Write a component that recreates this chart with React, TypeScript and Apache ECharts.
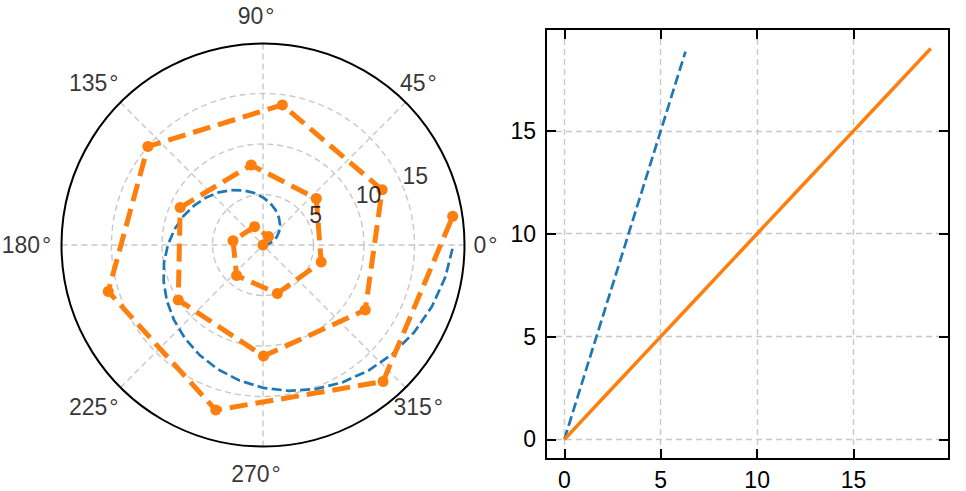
import React, { useEffect, useRef } from "react";
import * as echarts from "echarts";

// ---- data ----
// blue spiral (r = 3*theta), sampled every 10 degrees
const spiralDeg = [
  0, 10, 20, 30, 40, 50, 60, 70, 80, 90, 100, 110, 120, 130, 140, 150, 160, 170, 180,
  190, 200, 210, 220, 230, 240, 250, 260, 270, 280, 290, 300, 310, 320, 330, 340, 350, 360,
];
const spiralR = [
  0, 0.52, 1.05, 1.57, 2.09, 2.62, 3.14, 3.67, 4.19, 4.71, 5.24, 5.76, 6.28, 6.81, 7.33,
  7.85, 8.38, 8.9, 9.42, 9.95, 10.47, 11.0, 11.52, 12.04, 12.57, 13.09, 13.61, 14.14,
  14.66, 15.18, 15.71, 16.23, 16.76, 17.28, 17.8, 18.33, 18.85,
];
// orange points: theta (radians) and r
const orangeTheta = [0, 1, 2, 3, 4, 5, 6, 7, 8, 9, 10, 11, 12, 13, 14, 15, 16, 17, 18, 19];
const orangeR = [0, 1, 2, 3, 4, 5, 6, 7, 8, 9, 10, 11, 12, 13, 14, 15, 16, 17, 18, 19];
// tick labels
const angleTicks = [0, 45, 90, 135, 180, 225, 270, 315];
const radiusTicks = [5, 10, 15];

// ---- layout / style constants ----
const R_MAX = 19.95;
const AX_MIN = -0.95;
const AX_MAX = 19.95;
const ANGLE_LABEL_R = 22.72;
const RADIUS_LABEL_ANGLE = 22.5;
const FONT = "'Liberation Sans', Arial, Helvetica, sans-serif";
const FS = 23;
const BLUE = "#1f77b4";
const ORANGE = "#ff7f0e";
const GRID_C = "#c8c8c8";
const TRANSP = "rgba(0,0,0,0)";

export default function App() {
  const ref = useRef<HTMLDivElement>(null);
  useEffect(() => {
    if (!ref.current) return;
    const chart = echarts.init(ref.current, null, { renderer: "svg" });
    const gridLine = { lineStyle: { color: GRID_C, width: 1.4, type: [6, 4] } };
    const tickFmt = (v: number) => (Math.abs(v % 5) < 1e-9 ? String(v) : "");
    const cartAxis = (pos: string, labels: boolean) => ({
      type: "value",
      position: pos,
      min: AX_MIN,
      max: AX_MAX,
      axisLine: { show: true, onZero: false, lineStyle: { color: "#000", width: 2 } },
      axisTick: { show: true, inside: true, length: 10, lineStyle: { color: "#000", width: 2 } },
      axisLabel: {
        show: labels,
        color: "#000",
        fontSize: FS,
        fontFamily: FONT,
        margin: pos === "left" ? 10 : 9,
        formatter: tickFmt,
        showMinLabel: false,
        showMaxLabel: false,
      },
      splitLine: labels
        ? { show: true, showMinLine: false, showMaxLine: false, ...gridLine }
        : { show: false },
    });

    const option: any = {
      animation: false,
      textStyle: { fontFamily: FONT },
      polar: { center: [263, 245], radius: 201.5 },
      angleAxis: {
        type: "value",
        min: 0,
        max: 360,
        interval: 45,
        startAngle: 0,
        clockwise: false,
        axisLine: { show: true, lineStyle: { color: "#000", width: 2 } },
        axisTick: { show: false },
        axisLabel: { show: false },
        splitLine: { show: true, ...gridLine },
        z: 3,
      },
      radiusAxis: {
        type: "value",
        min: 0,
        max: R_MAX,
        interval: 5,
        axisLine: { show: false },
        axisTick: { show: false },
        axisLabel: { show: false },
        splitLine: {
          show: true,
          lineStyle: {
            color: [GRID_C, GRID_C, GRID_C, GRID_C, TRANSP],
            width: 1.4,
            type: [6, 4],
          },
        },
      },
      grid: { left: 546, top: 29, width: 403, height: 431 },
      xAxis: [cartAxis("bottom", true), cartAxis("top", false)],
      yAxis: [cartAxis("left", true), cartAxis("right", false)],
      series: [
        {
          type: "line",
          coordinateSystem: "polar",
          data: spiralDeg.map((d, i) => [spiralR[i], d]),
          symbol: "none",
          lineStyle: { color: BLUE, width: 2.7, type: [10, 4.3] },
          silent: true,
        },
        {
          type: "line",
          coordinateSystem: "polar",
          data: orangeTheta.map((t, i) => [orangeR[i], ((t * 180) / Math.PI) % 360]),
          symbol: "circle",
          symbolSize: 11,
          itemStyle: { color: ORANGE, borderWidth: 0 },
          lineStyle: { color: ORANGE, width: 5, type: [18, 8] },
          silent: true,
        },
        {
          type: "scatter",
          coordinateSystem: "polar",
          data: angleTicks.map((a) => ({ value: [ANGLE_LABEL_R, a], name: a + "\u200a°" })),
          symbol: "circle",
          symbolSize: 1,
          itemStyle: { color: TRANSP },
          clip: false,
          silent: true,
          label: {
            show: true,
            position: "inside",
            formatter: "{b}",
            color: "#000",
            fontSize: FS,
            fontFamily: FONT,
            align: "center",
            verticalAlign: "middle",
            offset: [-7, 0],
          },
          z: 5,
        },
        {
          type: "scatter",
          coordinateSystem: "polar",
          data: radiusTicks.map((r) => ({ value: [r, RADIUS_LABEL_ANGLE], name: String(r) })),
          symbol: "circle",
          symbolSize: 1,
          itemStyle: { color: TRANSP },
          clip: false,
          silent: true,
          label: {
            show: true,
            position: [0, 0],
            formatter: "{b}",
            color: "#000",
            fontSize: FS,
            fontFamily: FONT,
            align: "left",
            verticalAlign: "bottom",
            offset: [0, 1],
          },
          z: 5,
        },
        {
          type: "line",
          xAxisIndex: 0,
          yAxisIndex: 0,
          data: spiralDeg.map((d, i) => [(d * Math.PI) / 180, spiralR[i]]),
          symbol: "none",
          lineStyle: { color: BLUE, width: 2.7, type: [10, 4.3] },
          silent: true,
        },
        {
          type: "line",
          xAxisIndex: 0,
          yAxisIndex: 0,
          data: orangeTheta.map((t, i) => [t, orangeR[i]]),
          symbol: "none",
          lineStyle: { color: ORANGE, width: 3.5 },
          silent: true,
        },
      ],
    };
    chart.setOption(option);
    return () => chart.dispose();
  }, []);
  return (
    <div
      ref={ref}
      style={{ position: "absolute", left: 0, top: 0, width: 966, height: 491, background: "#fff" }}
    />
  );
}
